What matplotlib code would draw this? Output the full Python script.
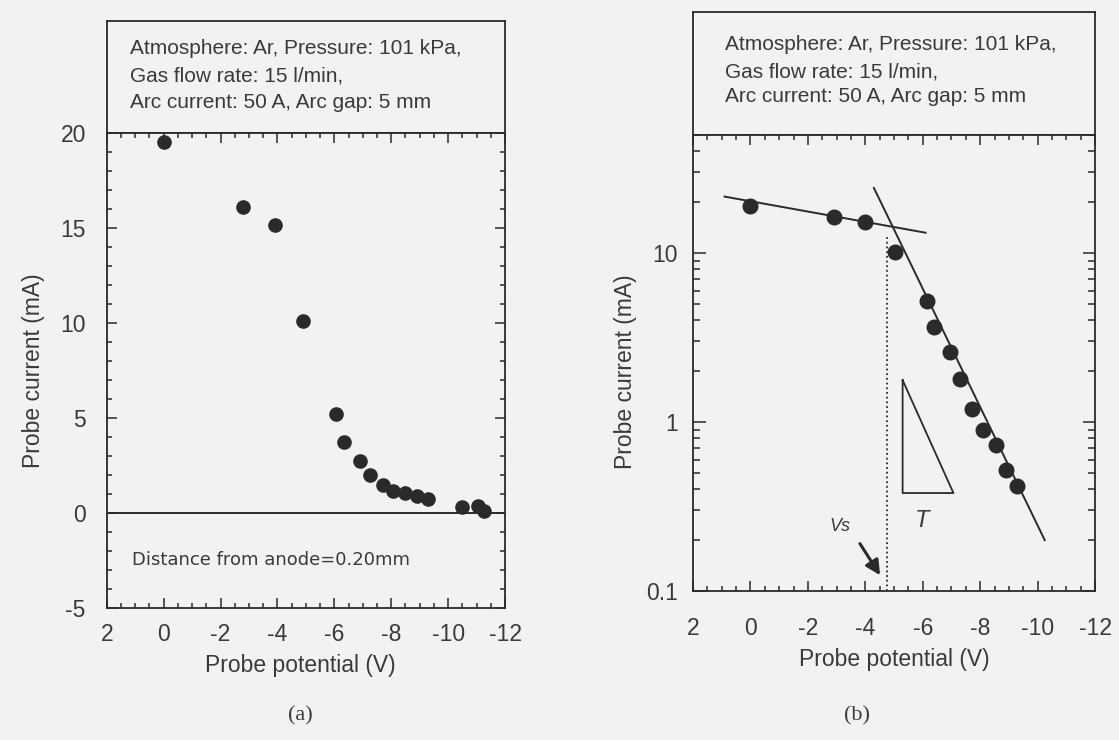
import matplotlib
matplotlib.use("Agg")
import matplotlib.pyplot as plt
from matplotlib.ticker import MultipleLocator, FixedLocator, LogLocator, NullFormatter

plt.rcParams['font.family'] = ['Liberation Sans', 'DejaVu Sans']
plt.rcParams['axes.unicode_minus'] = False

# panel (a): linear probe characteristic
left_v = [0.0, -2.8, -3.9, -4.9, -6.05, -6.35, -6.9, -7.25, -7.7, -8.05, -8.5, -8.9, -9.3, -10.5, -11.05, -11.25]
left_i = [19.5, 16.1, 15.15, 10.1, 5.2, 3.75, 2.75, 2.0, 1.45, 1.15, 1.05, 0.9, 0.75, 0.3, 0.35, 0.1]

# panel (b): semi-log electron current
right_v = [0.0, -2.9, -4.0, -5.05, -6.15, -6.4, -6.95, -7.3, -7.7, -8.1, -8.55, -8.9, -9.3]
right_i = [19.0, 16.3, 15.3, 10.1, 5.2, 3.65, 2.6, 1.8, 1.2, 0.9, 0.73, 0.52, 0.42]

# fitted straight lines and construction marks on panel (b)
flat_v = [0.9, -6.1]
flat_i = [21.6, 13.2]
steep_v = [-4.3, -10.25]
steep_i = [24.3, 0.2]
vs_v = -4.77
vs_i = [0.1, 12.5]
tri_v = [-5.3, -5.3, -7.07, -5.3]
tri_i = [1.77, 0.38, 0.38, 1.77]

x_ticks = [2, 0, -2, -4, -6, -8, -10, -12]
header = ["Atmosphere: Ar, Pressure: 101 kPa,",
          "Gas flow rate: 15 l/min,",
          "Arc current: 50 A, Arc gap: 5 mm"]

bg = '#f2f2f0'
ink = '#2a2a2a'
txt = '#3a3a3a'

W, H = 1119, 740
fig = plt.figure(figsize=(W / 100, H / 100), dpi=100, facecolor=bg)


def rect(x0, y0, x1, y1):
    # pixel box (top-left origin) -> figure fraction
    return [x0 / W, 1 - y1 / H, (x1 - x0) / W, (y1 - y0) / H]


def style_axes(ax):
    ax.set_facecolor(bg)
    for s in ax.spines.values():
        s.set_linewidth(1.3)
        s.set_color(ink)
    ax.tick_params(which='both', direction='in', top=True, right=True,
                   colors=ink, labelcolor=txt, labelsize=16.5, width=1.1)
    ax.tick_params(which='major', length=7)
    ax.tick_params(which='minor', length=3.5)


def header_box(x0, y0, x1, y1, tx, ys):
    hb = fig.add_axes(rect(x0, y0, x1, y1))
    hb.set_facecolor(bg)
    hb.set_xticks([])
    hb.set_yticks([])
    for s in hb.spines.values():
        s.set_linewidth(1.3)
        s.set_color(ink)
    for line, y in zip(header, ys):
        fig.text(tx / W, 1 - y / H, line, fontsize=15, color=txt, va='center', ha='left')


# ---- (a)
header_box(106.7, 21, 505, 132.7, 130, [48, 76, 103])
ax1 = fig.add_axes(rect(106.7, 132.7, 505, 608))
style_axes(ax1)
ax1.axhline(0, color=ink, lw=1.4)
ax1.plot(left_v, left_i, 'o', color=ink, ms=9.5, mec=ink)
ax1.set_xlim(2, -12)
ax1.set_ylim(-5, 20)
ax1.xaxis.set_major_locator(FixedLocator(x_ticks))
ax1.xaxis.set_minor_locator(MultipleLocator(0.5))
ax1.yaxis.set_major_locator(MultipleLocator(5))
ax1.yaxis.set_minor_locator(MultipleLocator(1))
ax1.tick_params(axis='y', pad=15)
ax1.tick_params(axis='x', pad=11)
ax1.set_xlabel("Probe potential (V)", fontsize=16.5, color=txt)
ax1.xaxis.set_label_coords(0.485, -0.122)
ax1.xaxis.label.set_va('center')
ax1.set_ylabel("Probe current (mA)", fontsize=16.5, color=txt)
ax1.yaxis.set_label_coords(-0.185, 0.5)
ax1.yaxis.label.set_va('center')
ax1.text(1.12, -2.45, "Distance from anode=0.20mm", fontsize=13,
         family='DejaVu Sans', color=txt, va='center', ha='left')
fig.text(300 / W, 1 - 716 / H, "(a)", fontsize=16, family='Liberation Serif',
         color=txt, ha='center', va='center')

# ---- (b)
header_box(693, 11.7, 1095, 135, 725, [45, 72, 97])
ax2 = fig.add_axes(rect(693, 135, 1095, 591))
style_axes(ax2)
ax2.set_yscale('log')
ax2.plot(flat_v, flat_i, color=ink, lw=1.4)
ax2.plot(steep_v, steep_i, color=ink, lw=1.4)
ax2.plot([vs_v, vs_v], vs_i, color=ink, lw=1.3, ls=(0, (1, 1.6)))
ax2.plot(tri_v, tri_i, color=ink, lw=1.3)
ax2.plot(right_v, right_i, 'o', color=ink, ms=10.5, mec=ink)
ax2.set_xlim(2, -12)
ax2.set_ylim(0.1, 50)
ax2.xaxis.set_major_locator(FixedLocator(x_ticks))
ax2.xaxis.set_minor_locator(MultipleLocator(0.5))
ax2.yaxis.set_major_locator(FixedLocator([0.1, 1, 10]))
ax2.yaxis.set_major_formatter(matplotlib.ticker.FixedFormatter(["0.1", "1", "10"]))
ax2.yaxis.set_minor_locator(LogLocator(base=10, subs=range(2, 10)))
ax2.yaxis.set_minor_formatter(NullFormatter())
ax2.tick_params(axis='y', pad=11)
ax2.tick_params(axis='x', pad=19)
ax2.tick_params(axis='y', which='major', length=9)
ax2.tick_params(axis='y', which='minor', length=5)
ax2.set_xlabel("Probe potential (V)", fontsize=16.5, color=txt)
ax2.xaxis.set_label_coords(0.5, -0.151)
ax2.xaxis.label.set_va('center')
ax2.set_ylabel("Probe current (mA)", fontsize=16.5, color=txt)
ax2.yaxis.set_label_coords(-0.167, 0.48)
ax2.yaxis.label.set_va('center')
ax2.text(-5.97, 0.26, "T", fontsize=17, style='italic', color=txt, ha='center', va='center')
ax2.text(-3.12, 0.24, "Vs", fontsize=13, style='italic', color=txt, ha='center', va='center')
ax2.annotate("", xy=(-4.57, 0.12), xytext=(-3.76, 0.197),
             arrowprops=dict(arrowstyle='-|>', color=ink, lw=2.2, mutation_scale=22))
fig.text(857 / W, 1 - 716 / H, "(b)", fontsize=16, family='Liberation Serif',
         color=txt, ha='center', va='center')

fig.savefig("out.png", dpi=100, facecolor=bg)
